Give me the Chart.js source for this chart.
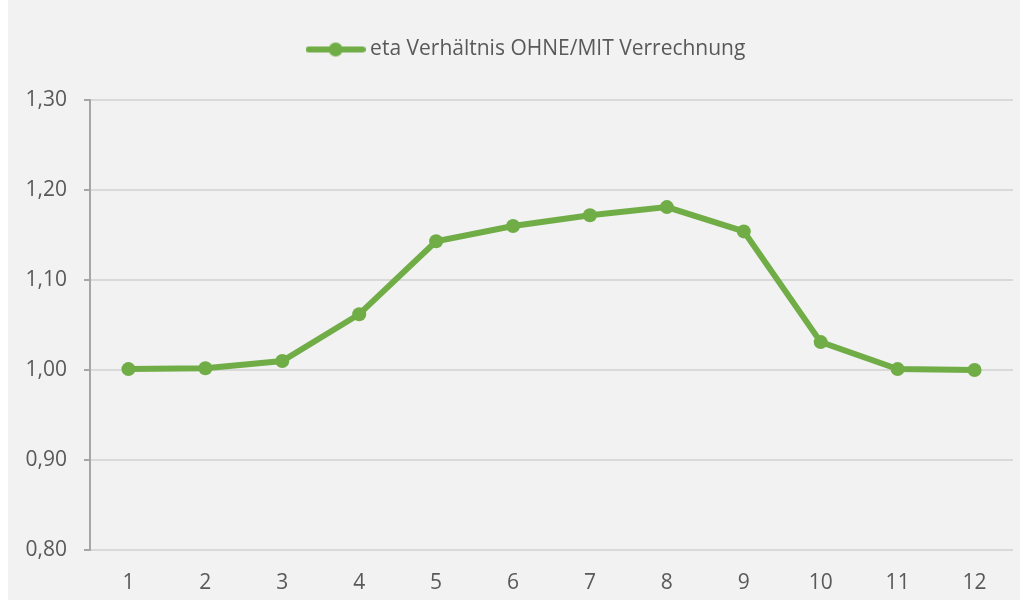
<!DOCTYPE html>
<html>
<head>
<meta charset="utf-8">
<script src="https://cdn.jsdelivr.net/npm/chart.js@4"></script>
<style>
  html, body { margin: 0; padding: 0; background: #ffffff; }
  #wrap { position: absolute; left: 8px; top: 0px; width: 1012px; height: 600px; background: #f2f2f2; }
</style>
</head>
<body>
<div id="wrap"><canvas id="chart" width="1012" height="600"></canvas></div>
<script>
// Data
const categories = ['1', '2', '3', '4', '5', '6', '7', '8', '9', '10', '11', '12'];
const etaValues = [1.001, 1.002, 1.010, 1.062, 1.143, 1.160, 1.172, 1.181, 1.154, 1.031, 1.001, 1.000];
const seriesLabel = 'eta Verhältnis OHNE/MIT Verrechnung';
const yTicks = [0.80, 0.90, 1.00, 1.10, 1.20, 1.30];

const green = '#70ad47';
const textColor = '#595959';
const fontFamily = '"Open Sans", "Liberation Sans", sans-serif';

// legend marker: short line with a dot in the middle
const marker = document.createElement('canvas');
marker.width = 60;
marker.height = 16;
const mctx = marker.getContext('2d');
mctx.strokeStyle = green;
mctx.lineWidth = 6;
mctx.lineCap = 'round';
mctx.beginPath();
mctx.moveTo(3, 8);
mctx.lineTo(57, 8);
mctx.stroke();
mctx.fillStyle = green;
mctx.beginPath();
mctx.arc(30, 8, 7, 0, Math.PI * 2);
mctx.fill();

// extra gap under the legend, and legend a bit right of centre like the original
const legendGap = {
  id: 'legendGap',
  beforeInit(chart) {
    const fit = chart.legend.fit;
    chart.legend.fit = function () {
      fit.call(this);
      this.height += 30;
    };
  },
  afterLayout(chart) {
    chart.legend.left += 36;
  }
};

const chart = new Chart(document.getElementById('chart'), {
  type: 'line',
  data: {
    labels: categories,
    datasets: [{
      label: seriesLabel,
      data: etaValues,
      borderColor: green,
      backgroundColor: green,
      borderWidth: 6,
      pointRadius: 7,
      pointBorderWidth: 0,
      pointBackgroundColor: green,
      pointStyle: 'circle',
      tension: 0
    }]
  },
  options: {
    responsive: false,
    animation: false,
    layout: { padding: { left: 0, right: 7, top: 19, bottom: 0 } },
    plugins: {
      tooltip: { enabled: false },
      legend: {
        position: 'top',
        align: 'center',
        labels: {
          usePointStyle: true,
          pointStyleWidth: 48,
          color: textColor,
          font: { family: fontFamily, size: 21 },
          padding: 20,
          generateLabels: () => [{
            text: seriesLabel,
            pointStyle: marker,
            fillStyle: green,
            strokeStyle: green,
            lineWidth: 0,
            fontColor: textColor,
            datasetIndex: 0
          }]
        }
      }
    },
    scales: {
      x: {
        offset: true,
        afterFit: (axis) => { axis.height = 50; },
        grid: { display: false, drawTicks: false },
        border: { display: false },
        ticks: { color: textColor, font: { family: fontFamily, size: 21 }, padding: 20 }
      },
      y: {
        min: 0.80,
        max: 1.30,
        afterBuildTicks: (axis) => { axis.ticks = yTicks.map(v => ({ value: v })); },
        afterFit: (axis) => { axis.width = 82; },
        grid: { color: '#d9d9d9', lineWidth: 2, tickLength: 6, tickColor: '#a6a6a6' },
        border: { display: true, color: '#a6a6a6', width: 2 },
        ticks: {
          color: textColor,
          font: { family: fontFamily, size: 21 },
          padding: 17,
          callback: (v) => Number(v).toFixed(2).replace('.', ',')
        }
      }
    }
  },
  plugins: [legendGap]
});
</script>
</body>
</html>
